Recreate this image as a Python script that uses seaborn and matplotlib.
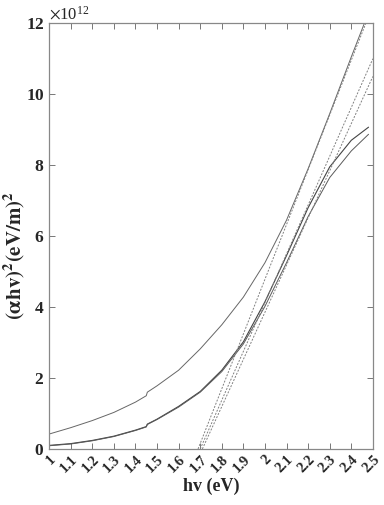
import numpy as np
import pandas as pd
import matplotlib
matplotlib.use("Agg")
import matplotlib.pyplot as plt
import seaborn as sns
from matplotlib.ticker import ScalarFormatter

# photon energy (eV) and (alpha*h*v)^2 readings, in units of 1e12 (eV/m)^2
hv = [1.0, 1.1, 1.2, 1.3, 1.4, 1.45, 1.455, 1.5, 1.6, 1.7, 1.8, 1.9,
      2.0, 2.1, 2.2, 2.3, 2.4, 2.48]
film_a = [0.42, 0.60, 0.80, 1.03, 1.32, 1.50, 1.60, 1.78, 2.22, 2.82, 3.50, 4.28,
          5.25, 6.45, 7.90, 9.45, 11.05, 12.30]
film_b = [0.10, 0.15, 0.24, 0.36, 0.53, 0.63, 0.70, 0.84, 1.20, 1.62, 2.22, 3.02,
          4.15, 5.45, 6.80, 7.95, 8.70, 9.07]
film_c = [0.09, 0.14, 0.23, 0.35, 0.52, 0.62, 0.69, 0.83, 1.18, 1.60, 2.18, 2.96,
          4.02, 5.25, 6.55, 7.65, 8.40, 8.87]

# linear extrapolations (Tauc fits): x-intercept -> value at 2.5 eV
fit_a_x = [1.69, 2.5]
fit_a_y = [0.0, 12.5]
fit_b_x = [1.70, 2.5]
fit_b_y = [0.0, 11.0]
fit_c_x = [1.71, 2.5]
fit_c_y = [0.0, 10.5]

xticks = [1.0, 1.1, 1.2, 1.3, 1.4, 1.5, 1.6, 1.7, 1.8, 1.9, 2.0,
          2.1, 2.2, 2.3, 2.4, 2.5]
xlabels = ["1", "1.1", "1.2", "1.3", "1.4", "1.5", "1.6", "1.7", "1.8", "1.9", "2",
           "2.1", "2.2", "2.3", "2.4", "2.5"]
yticks = [0, 2, 4, 6, 8, 10, 12]

sns.set_theme(style="white")
plt.rcParams['font.family'] = ['Liberation Serif', 'DejaVu Serif']
plt.rcParams['mathtext.fontset'] = 'stix'

fig = plt.figure(figsize=(3.84, 5.05), dpi=100)
ax = fig.add_axes([0.128, 0.111, 0.843, 0.843])

scale = 1e12
curves = pd.DataFrame({"hv": hv, "a": np.array(film_a) * scale,
                       "b": np.array(film_b) * scale, "c": np.array(film_c) * scale})

sns.lineplot(data=curves, x="hv", y="a", ax=ax, color="#666666", linewidth=0.7)
sns.lineplot(data=curves, x="hv", y="b", ax=ax, color="#444444", linewidth=0.8)
sns.lineplot(data=curves, x="hv", y="c", ax=ax, color="#5a5a5a", linewidth=0.7)

for fx, fy in [(fit_a_x, fit_a_y), (fit_b_x, fit_b_y), (fit_c_x, fit_c_y)]:
    sns.lineplot(x=fx, y=np.array(fy) * scale, ax=ax, color="#808080",
                 linewidth=0.7, linestyle=(0, (2.0, 1.5)))

ax.set_xlim(1, 2.5)
ax.set_ylim(0, 12 * scale)
ax.set_xticks(xticks)
ax.set_xticklabels(xlabels, rotation=45, ha="right", rotation_mode="anchor",
                   fontsize=10.5, fontweight="bold")
ax.set_yticks([v * scale for v in yticks])

fmt = ScalarFormatter(useMathText=True)
fmt.set_powerlimits((12, 12))
ax.yaxis.set_major_formatter(fmt)
ax.tick_params(axis="y", labelsize=12.5)
for lab in ax.get_yticklabels():
    lab.set_fontweight("bold")
ax.yaxis.get_offset_text().set_fontsize(12)

ax.tick_params(direction="in", length=4, width=0.7, color="#777777",
               top=True, right=True, bottom=True, left=True)
ax.tick_params(axis="x", pad=3)
for sp in ax.spines.values():
    sp.set_color("#888888")
    sp.set_linewidth(0.9)

ax.set_xlabel("hv (eV)", fontsize=13, fontweight="bold", labelpad=2)
ax.set_ylabel(r"$\mathbf{(\alpha hv)^2(eV/m)^2}$", fontsize=15)
ax.yaxis.set_label_coords(-0.068, 0.455)

fig.savefig("out.png", dpi=100)
